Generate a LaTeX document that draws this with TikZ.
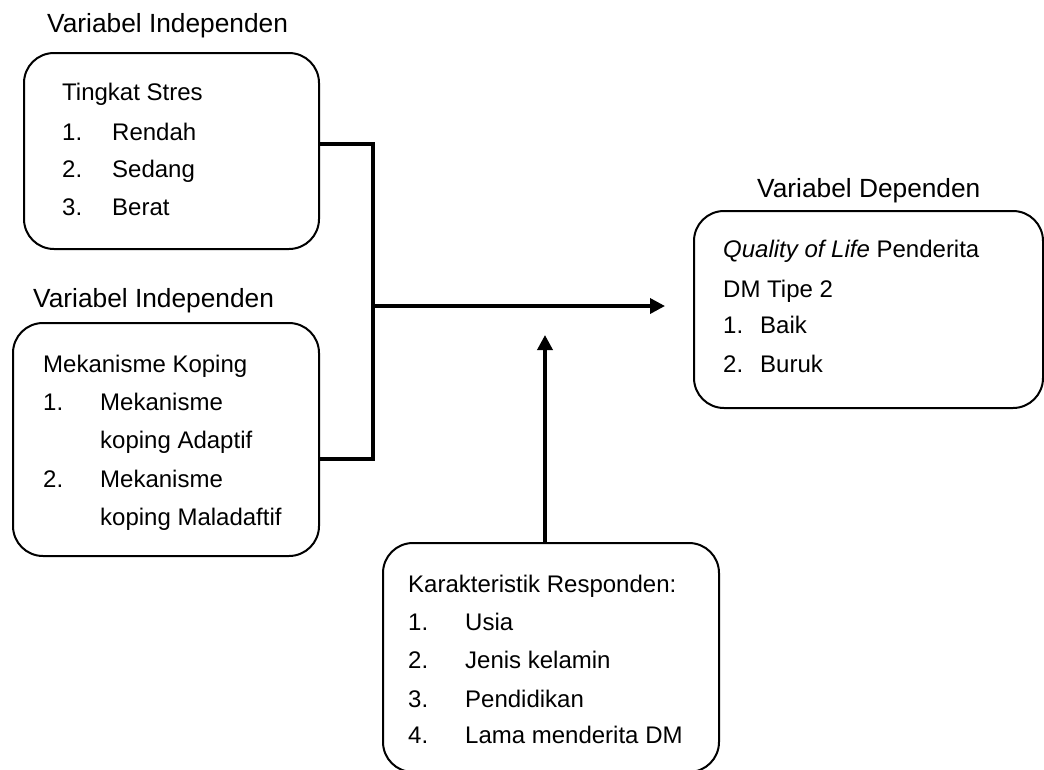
\documentclass[tikz,border=0pt]{standalone}
\usepackage{fontspec}
\setmainfont{Liberation Sans}
\usetikzlibrary{arrows.meta}
\begin{document}
\begin{tikzpicture}[x=1pt,y=-1pt,
  box/.style={draw=black, line width=2pt, rounded corners=30pt, inner sep=0pt, anchor=north west},
  lbl/.style={anchor=base west, inner sep=0pt, font=\fontsize{26.3}{31}\selectfont},
  txt/.style={anchor=base west, inner sep=0pt, font=\fontsize{24}{29}\selectfont},
  conn/.style={draw=black, line width=3.5pt},
  tip/.style={-{Triangle[length=15pt,width=15pt]}}]
\useasboundingbox (0,0) rectangle (1044,769);
\fill[white] (0,0) rectangle (1044,769);

% labels
\node[lbl] (l1) at (47,32) {Variabel Independen};
\node[lbl] (l2) at (33,307) {Variabel Independen};
\node[lbl] (l3) at (757,197) {Variabel Dependen};

% boxes
\node[box, minimum width=295pt, minimum height=196pt] (b1) at (23,52) {};
\node[box, minimum width=306pt, minimum height=233pt] (b2) at (12,322) {};
\node[box, minimum width=349pt, minimum height=197pt] (b4) at (693,210) {};
\node[box, minimum width=336pt, minimum height=229pt] (b5) at (382,542) {};

% box 1 text
\node[txt] (t11) at (62,100) {Tingkat Stres};
\node[txt] (t12) at (62,140) {1.};
\node[txt] (t13) at (112,140) {Rendah};
\node[txt] (t14) at (62,177) {2.};
\node[txt] (t15) at (112,177) {Sedang};
\node[txt] (t16) at (62,215) {3.};
\node[txt] (t17) at (112,215) {Berat};

% box 2 text
\node[txt] (t21) at (43,372) {Mekanisme Koping};
\node[txt] (t22) at (43,410) {1.};
\node[txt] (t23) at (100,410) {Mekanisme};
\node[txt] (t24) at (100,448) {koping Adaptif};
\node[txt] (t25) at (43,487) {2.};
\node[txt] (t26) at (100,487) {Mekanisme};
\node[txt] (t27) at (100,525) {koping Maladaftif};

% box 4 text
\node[txt] (t41) at (723,257) {\textit{Quality of Life} Penderita};
\node[txt] (t42) at (723,297) {DM Tipe 2};
\node[txt] (t43) at (723,333) {1.};
\node[txt] (t44) at (760,333) {Baik};
\node[txt] (t45) at (723,372) {2.};
\node[txt] (t46) at (760,372) {Buruk};

% box 5 text
\node[txt] (t51) at (408,592) {Karakteristik Responden:};
\node[txt] (t52) at (408,630) {1.};
\node[txt] (t53) at (465,630) {Usia};
\node[txt] (t54) at (408,668) {2.};
\node[txt] (t55) at (465,668) {Jenis kelamin};
\node[txt] (t56) at (408,707) {3.};
\node[txt] (t57) at (465,707) {Pendidikan};
\node[txt] (t58) at (408,743) {4.};
\node[txt] (t59) at (465,743) {Lama menderita DM};

% connectors
\coordinate (jx) at (373,306);
\coordinate (ut) at (545,335);
\coordinate (e1) at ([yshift=7pt]b1.east);
\coordinate (e2) at ([yshift=-19.5pt]b2.east);
\draw[conn] (e1) -| (jx |- e2) -- (e2);
\draw[conn, tip] (jx) -- ([xshift=-28pt]b4.west |- jx);
\draw[conn, tip] (b5.north -| ut) -- (ut);
\end{tikzpicture}
\end{document}
